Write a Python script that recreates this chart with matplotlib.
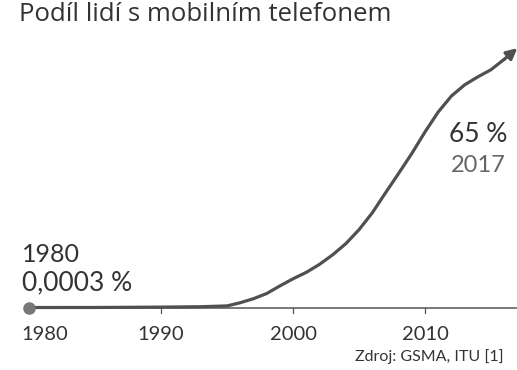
import matplotlib.pyplot as plt

plt.rcParams["font.family"] = ["Lato", "DejaVu Sans"]

# share of people with a mobile phone (%)
years = [1980, 1985, 1990, 1993, 1995, 1996, 1997, 1998, 1999, 2000, 2001,
         2002, 2003, 2004, 2005, 2006, 2007, 2008, 2009, 2010, 2011, 2012,
         2013, 2014, 2015, 2016, 2017]
share = [0.0003, 0.01, 0.1, 0.2, 0.4, 1.2, 2.2, 3.5, 5.4, 7.2, 8.8,
         10.8, 13.2, 16.0, 19.5, 23.7, 28.7, 33.6, 38.6, 44.0, 49.0, 53.0,
         55.8, 57.8, 59.6, 62.2, 65.0]
tick_years = [1980, 1990, 2000, 2010]

title = "Podíl lidí s mobilním telefonem"
source = "Zdroj: GSMA, ITU [1]"

LINE = "#505050"
TEXT = "#333333"

fig = plt.figure(figsize=(5.17, 3.70), dpi=100)
ax = fig.add_axes([0, 0, 1, 1])
ax.set_xlim(1977.80, 2016.97)
ax.set_ylim(-15.66, 77.07)
ax.axis("off")

# baseline axis with small ticks
ax.plot([1980, 2020], [0, 0], color="#555555", lw=1.1, zorder=1,
        solid_capstyle="butt")
for yr in tick_years[1:]:
    ax.plot([yr, yr], [0, -1.3], color="#555555", lw=0.9, zorder=1)

for yr in tick_years:
    ha = "left" if yr == tick_years[0] else "center"
    x = yr - 0.55 if yr == tick_years[0] else yr
    ax.text(x, -8.15, str(yr), fontsize=14.5, color=TEXT, ha=ha,
            va="baseline")

# main curve, arrow at the end
ax.plot(years[:-1], share[:-1], color=LINE, lw=2.3, zorder=3,
        solid_capstyle="round", solid_joinstyle="round")
ax.annotate("", xy=(years[-1], share[-1]), xytext=(years[-2], share[-2]),
            arrowprops=dict(arrowstyle="-|>", color=LINE, lw=2.3,
                            mutation_scale=16, shrinkA=0, shrinkB=0),
            annotation_clip=False, zorder=3)
ax.plot(years[0], share[0], "o", color="#777777", ms=8, zorder=4)

# labels
ax.text(1979.5, 11.4, "1980", fontsize=18, color=TEXT, ha="left",
        va="baseline")
ax.text(1979.5, 4.4, "0,0003 %", fontsize=19, color=TEXT, ha="left",
        va="baseline")
ax.text(2014.0, 41.5, "65 %", fontsize=19, color=TEXT, ha="center",
        va="baseline")
ax.text(2014.0, 34.0, "2017", fontsize=17, color="#666666", ha="center",
        va="baseline")

fig.text(0.037, 0.943, title, fontsize=18.5, color=TEXT, ha="left",
         va="baseline", family=["Open Sans", "DejaVu Sans"])
fig.text(0.687, 0.024, source, fontsize=11.5, color=TEXT, ha="left",
         va="baseline")

fig.savefig("out.png", dpi=100)
